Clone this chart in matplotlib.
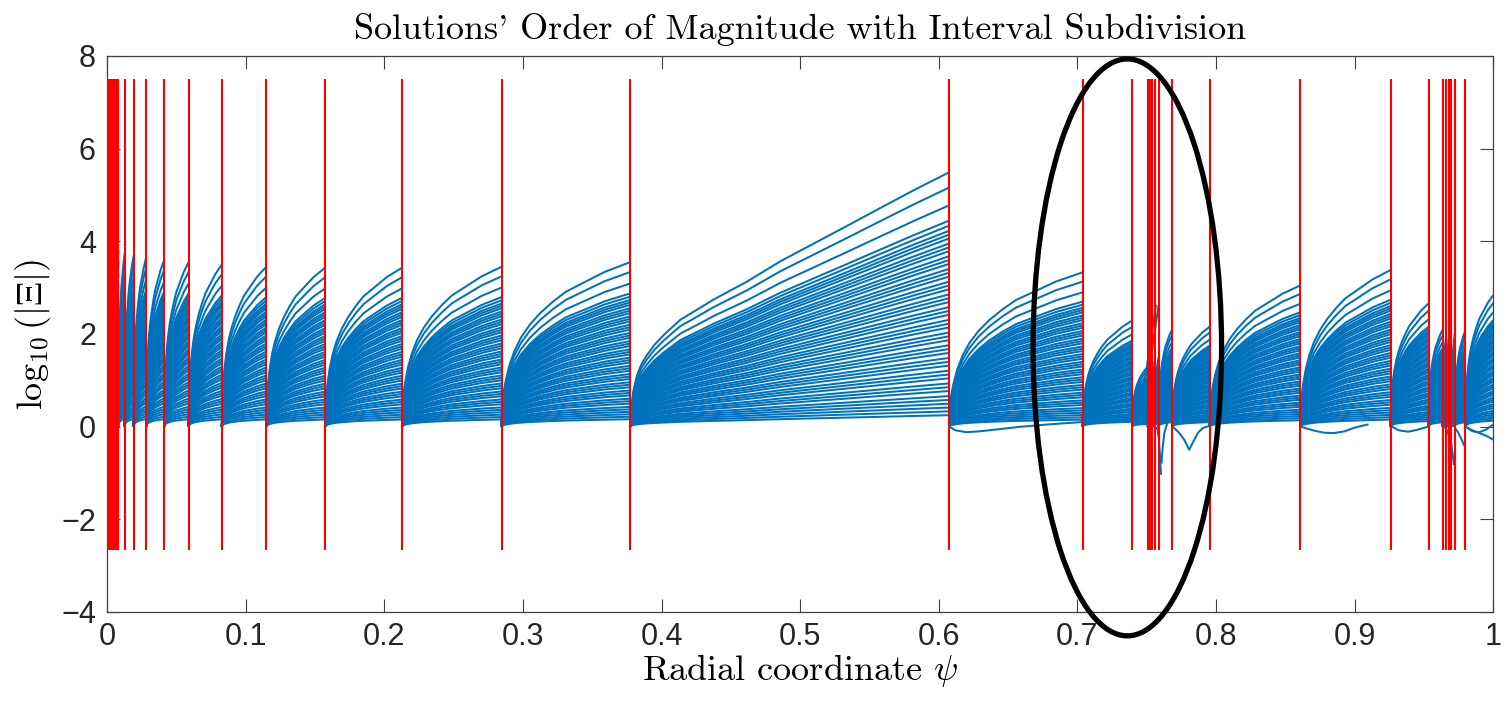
import matplotlib
matplotlib.use("Agg")
import matplotlib.pyplot as plt
from matplotlib.collections import LineCollection
from matplotlib.patches import Ellipse
import numpy as np

plt.rcParams["mathtext.fontset"] = "cm"
plt.rcParams["axes.unicode_minus"] = True

# subdivision points of the radial interval (red lines)
red_lines = [0.0, 0.0012, 0.0025, 0.0037, 0.0048, 0.0063, 0.0082, 0.0128, 0.0193, 0.0283,
             0.0413, 0.0589, 0.0829, 0.1149, 0.1574, 0.2128, 0.2846, 0.3774, 0.6075, 0.7037,
             0.7395, 0.7509, 0.7526, 0.7541, 0.7558, 0.7586, 0.7683, 0.7955, 0.8609, 0.9259,
             0.9533, 0.9636, 0.9658, 0.9679, 0.9697, 0.9722, 0.9799]
red_ymin, red_ymax = -2.66, 7.5

# log10|Xi| of the largest solution at the right end of each sub-interval
peaks = [3.9, 3.88, 3.86, 3.84, 3.82, 3.8, 3.75, 3.7, 3.65, 3.6,
         3.55, 3.5, 3.45, 3.43, 3.43, 3.45, 3.55, 5.49, 3.33, 2.29,
         1.3, 1.4, 1.4, 1.4, 1.5, 2.1, 2.16, 3.05, 3.38, 2.66,
         2.1, 1.9, 1.9, 1.9, 2.0, 2.08, 2.84]

# shape of a solution across a sub-interval (t: 0 = left end, 1 = right end)
short_t = [0, 0.005, 0.015, 0.03, 0.06, 0.1, 0.15, 0.22, 0.3, 0.4, 0.5, 0.6, 0.7, 0.8, 0.9, 1.0]
short_y = [0, 0.11, 0.2, 0.27, 0.37, 0.46, 0.54, 0.62, 0.69, 0.76, 0.82, 0.86, 0.9, 0.94, 0.97, 1.0]
long_t = [0, 0.003, 0.01, 0.021, 0.035, 0.052, 0.075, 0.105, 0.157, 0.21, 0.262, 0.366, 0.471,
          0.576, 0.681, 0.785, 0.89, 1.0]
long_y = [0, 0.07, 0.14, 0.20, 0.245, 0.28, 0.32, 0.36, 0.42, 0.46, 0.50, 0.57, 0.65,
          0.72, 0.79, 0.86, 0.93, 1.0]

# end heights of the other solutions, as a fraction of the largest one
fan = [1.00, 0.94, 0.87, 0.81, 0.79, 0.77, 0.755, 0.74, 0.72, 0.705, 0.69, 0.67, 0.655,
       0.64, 0.62, 0.605, 0.59, 0.57, 0.555, 0.54, 0.52, 0.505, 0.49, 0.47, 0.455, 0.44,
       0.42, 0.405, 0.39, 0.37, 0.355, 0.34, 0.32, 0.305, 0.29, 0.27, 0.255, 0.24, 0.22,
       0.205, 0.19, 0.17, 0.155, 0.14, 0.12, 0.105, 0.09, 0.075, 0.06, 0.045]

# solutions that leave the bundle (spikes and dips)
extra_x = [
    [0.7438, 0.7480, 0.7520, 0.7567],
    [0.7462, 0.7505, 0.7545, 0.7590],
    [0.7573, 0.7585, 0.7595, 0.7603],
    [0.7650, 0.7627, 0.7615, 0.7606],
    [0.7686, 0.7730, 0.7770, 0.7806, 0.7840, 0.7870, 0.7905, 0.7955],
    [0.6075, 0.612, 0.62, 0.63, 0.645, 0.66, 0.68, 0.7037],
    [0.8609, 0.870, 0.8775, 0.885, 0.893, 0.900, 0.910],
    [0.9266, 0.932, 0.9385, 0.945, 0.953],
    [0.9650, 0.9675, 0.9697, 0.9716],
    [0.9722, 0.9745, 0.9770, 0.9799],
    [0.9799, 0.985, 0.990, 0.995, 1.0],
    [0.9799, 0.985, 0.990, 0.995, 1.0],
]
extra_y = [
    [0.05, 0.85, 1.7, 2.63],
    [0.1, 0.95, 1.8, 2.7],
    [0.0, -0.2, -0.6, -1.04],
    [0.1, -0.14, -0.45, -0.8],
    [0.0, -0.12, -0.28, -0.50, -0.30, -0.13, -0.03, 0.02],
    [0.0, -0.08, -0.12, -0.1, -0.05, 0.0, 0.05, 0.1],
    [0.0, -0.08, -0.13, -0.14, -0.1, -0.02, 0.05],
    [0.0, -0.08, -0.11, -0.07, 0.0],
    [0.0, -0.15, -0.36, -0.83],
    [-0.02, -0.12, -0.27, -0.47],
    [0.0, -0.08, -0.14, -0.2, -0.28],
    [0.0, -0.1, -0.12, -0.06, 0.05],
]

blue = "#0072BD"

fig = plt.figure(figsize=(15.09, 7.01), dpi=100)
ax = fig.add_axes([0.0709, 0.1270, 0.9187, 0.7932])

ends = red_lines[1:] + [1.0]
segs = []
for a, b, p in zip(red_lines, ends, peaks):
    if b - a > 0.15:
        tt, yy = long_t, long_y
    else:
        tt, yy = short_t, short_y
    xs = a + (b - a) * np.array(tt)
    for f in fan:
        segs.append(np.column_stack([xs, p * f * np.array(yy)]))
for xs, ys in zip(extra_x, extra_y):
    segs.append(np.column_stack([xs, ys]))
ax.add_collection(LineCollection(segs, colors=blue, linewidths=1.45, zorder=2))

ax.vlines(red_lines, red_ymin, red_ymax, colors="#FF0000", linewidth=1.5, zorder=3)

ell = Ellipse((0.736, 1.71), 0.136, 12.45, fill=False, edgecolor="black",
              linewidth=3.8, clip_on=False, zorder=5)
ax.add_patch(ell)

ax.set_xlim(0, 1)
ax.set_ylim(-4, 8)
ax.set_xticks(np.arange(0, 1.01, 0.1))
ax.set_xticklabels(["0", "0.1", "0.2", "0.3", "0.4", "0.5", "0.6", "0.7", "0.8", "0.9", "1"])
ax.set_yticks([-4, -2, 0, 2, 4, 6, 8])
ax.set_yticklabels(["\u22124", "\u22122", "0", "2", "4", "6", "8"])

for s in ax.spines.values():
    s.set_color("#404040")
    s.set_linewidth(0.9)
ax.tick_params(direction="in", top=True, right=True, length=9.5, width=0.8,
               color="#404040", labelsize=22, labelcolor="#262626")
ax.tick_params(axis="x", pad=7)
ax.tick_params(axis="y", pad=8)
for lab in ax.get_xticklabels() + ax.get_yticklabels():
    lab.set_fontfamily("Liberation Sans")

ax.set_title("Solutions' Order of Magnitude with Interval Subdivision",
             fontfamily=["cmr10", "DejaVu Serif"], fontsize=26, pad=12)
ax.set_xlabel(r"Radial coordinate $\psi$", fontfamily=["cmr10", "DejaVu Serif"],
              fontsize=26, labelpad=0)
ax.set_ylabel(r"$\log_{10}(|\Xi|)$", fontsize=26, labelpad=6)

fig.savefig("out.png", dpi=100)
plt.close(fig)
